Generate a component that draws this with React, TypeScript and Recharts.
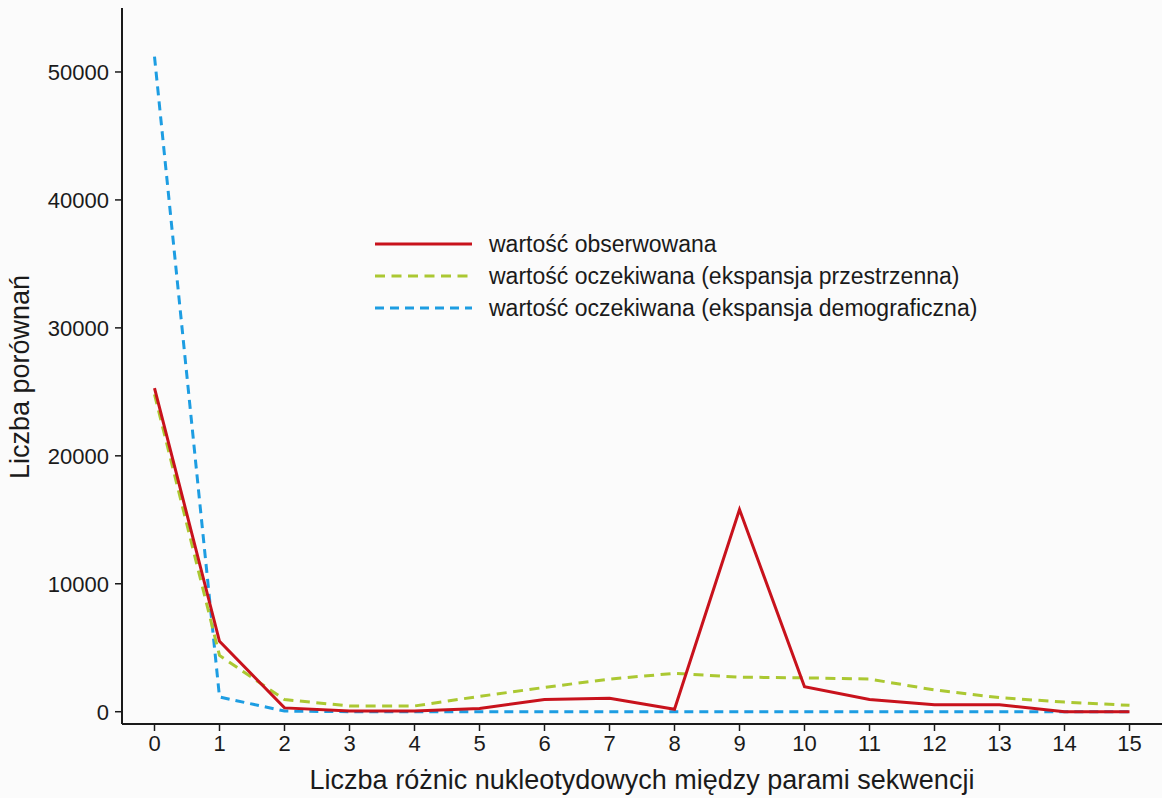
import { LineChart, Line, XAxis, YAxis, Legend, Label } from "recharts"

const differences = [0, 1, 2, 3, 4, 5, 6, 7, 8, 9, 10, 11, 12, 13, 14, 15]
const observed = [25300, 5500, 300, 50, 50, 250, 950, 1050, 190, 15800, 1950, 950, 550, 550, 0, 0]
const expectedSpatial = [24800, 4400, 950, 450, 450, 1200, 1900, 2550, 3000, 2700, 2650, 2550, 1700, 1100, 750, 500]
const expectedDemographic = [51200, 1150, 50, 0, 0, 0, 0, 0, 0, 0, 0, 0, 0, 0, 0, 0]
const yTicks = [0, 10000, 20000, 30000, 40000, 50000]

const data = differences.map((d, i) => ({
  d,
  observed: observed[i],
  spatial: expectedSpatial[i],
  demographic: expectedDemographic[i],
}))

const font = "'Liberation Sans', Arial, sans-serif"
const RED = "#c8121c"
const GREEN = "#abc832"
const BLUE = "#1d9de2"

const legendItems = [
  { label: "wartość obserwowana", color: RED, dash: undefined },
  { label: "wartość oczekiwana (ekspansja przestrzenna)", color: GREEN, dash: "10 6.5" },
  { label: "wartość oczekiwana (ekspansja demograficzna)", color: BLUE, dash: "9 6" },
]

function LegendBox() {
  return (
    <div style={{ fontFamily: font, fontSize: 23, color: "#1a1a1a" }}>
      {legendItems.map((item) => (
        <div key={item.label} style={{ display: "flex", alignItems: "center", height: 32 }}>
          <svg width={98} height={6}>
            <line x1={0} y1={3} x2={97} y2={3} stroke={item.color} strokeWidth={3} strokeDasharray={item.dash} />
          </svg>
          <span style={{ marginLeft: 16, whiteSpace: "nowrap" }}>{item.label}</span>
        </div>
      ))}
    </div>
  )
}

export default function App() {
  return (
    <div style={{ position: "absolute", left: 0, top: 0, width: 1162, height: 798, background: "#fbfbfb" }}>
      <LineChart width={1162} height={798} data={data} margin={{ top: 8, right: 0, bottom: 0, left: 0 }}>
        <XAxis
          dataKey="d"
          type="number"
          domain={[-0.5, 15.5]}
          ticks={differences}
          allowDataOverflow
          height={74}
          tickSize={7}
          tickMargin={4}
          tick={{ fill: "#1a1a1a", fontSize: 22, fontFamily: font }}
          axisLine={{ stroke: "#1a1a1a", strokeWidth: 2 }}
          tickLine={{ stroke: "#1a1a1a", strokeWidth: 1.5 }}
        >
          <Label
            content={() => (
              <text x={642} y={789} textAnchor="middle" fontSize={27} fontFamily={font} fill="#1a1a1a">
                Liczba różnic nukleotydowych między parami sekwencji
              </text>
            )}
          />
        </XAxis>
        <YAxis
          type="number"
          domain={[-960, 55000]}
          ticks={yTicks}
          allowDataOverflow
          width={122}
          tickSize={7}
          tickMargin={6}
          tick={{ fill: "#1a1a1a", fontSize: 22, fontFamily: font }}
          axisLine={{ stroke: "#1a1a1a", strokeWidth: 2 }}
          tickLine={{ stroke: "#1a1a1a", strokeWidth: 1.5 }}
        >
          <Label
            content={() => (
              <text
                x={29}
                y={377}
                transform="rotate(-90 29 377)"
                textAnchor="middle"
                fontSize={27}
                fontFamily={font}
                fill="#1a1a1a"
              >
                Liczba porównań
              </text>
            )}
          />
        </YAxis>
        <Legend
          layout="vertical"
          align="center"
          verticalAlign="middle"
          content={() => <LegendBox />}
          wrapperStyle={{ left: 375, top: 228, width: "auto" }}
        />
        <Line
          dataKey="demographic"
          stroke={BLUE}
          strokeWidth={3}
          strokeDasharray="9 6"
          dot={false}
          isAnimationActive={false}
        />
        <Line
          dataKey="spatial"
          stroke={GREEN}
          strokeWidth={3}
          strokeDasharray="10 6.5"
          dot={false}
          isAnimationActive={false}
        />
        <Line dataKey="observed" stroke={RED} strokeWidth={3} dot={false} isAnimationActive={false} />
      </LineChart>
    </div>
  )
}
